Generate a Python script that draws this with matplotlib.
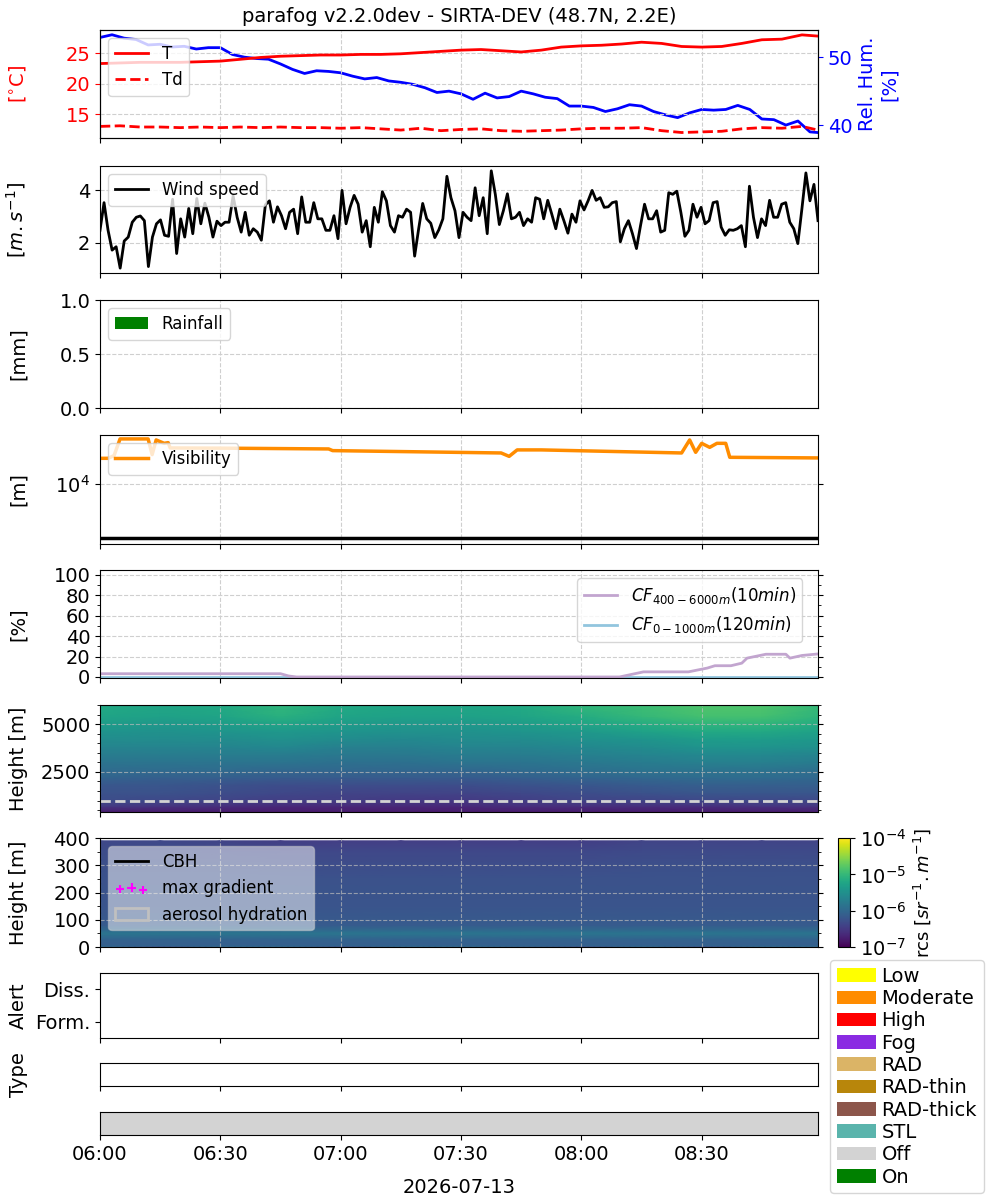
import numpy as np
import matplotlib
matplotlib.use('Agg')
import matplotlib.pyplot as plt
import matplotlib.dates as mdates
from matplotlib.colors import LogNorm
from matplotlib.patches import Patch
from matplotlib.ticker import MultipleLocator, NullLocator
from datetime import datetime, timedelta

plt.rcParams['font.family'] = ['DejaVu Sans']
plt.rcParams['font.size'] = 14

# ---------------- data ----------------
title = 'parafog v2.2.0dev - SIRTA-DEV (48.7N, 2.2E)'
day_label = '2026-07-13'
start = datetime(2026, 7, 13, 6, 0)
end = datetime(2026, 7, 13, 8, 59)

temp_min = [0, 5, 10, 15, 20, 25, 30, 35, 40, 45, 50, 55, 60, 65, 70, 75, 80, 85, 90,
            95, 100, 105, 110, 115, 120, 125, 130, 135, 140, 145, 150, 155, 160, 165,
            170, 175, 179]
temp_c = [23.3, 23.4, 23.5, 23.5, 23.5, 23.6, 23.7, 24.0, 24.3, 24.5, 24.6, 24.7, 24.7,
          24.8, 24.8, 24.9, 25.1, 25.3, 25.5, 25.6, 25.4, 25.2, 25.5, 26.0, 26.2, 26.3,
          26.5, 26.8, 26.6, 26.1, 26.0, 26.1, 26.6, 27.2, 27.3, 28.0, 27.8]
dewpoint_c = [13.0, 13.1, 12.9, 12.9, 12.8, 12.9, 12.8, 12.9, 12.8, 12.9, 12.8, 12.8, 12.7,
              12.8, 12.6, 12.4, 12.7, 12.3, 12.5, 12.6, 12.3, 12.2, 12.3, 12.4, 12.6, 12.7,
              12.7, 12.8, 12.3, 12.0, 12.1, 12.2, 12.6, 12.8, 12.7, 13.0, 12.4]

rh_min = [0, 3, 6, 9, 12, 15, 18, 21, 24, 27, 30, 33, 36, 39, 42, 45, 48, 51, 54, 57,
          60, 63, 66, 69, 72, 75, 78, 81, 84, 87, 90, 93, 96, 99, 102, 105, 108, 111,
          114, 117, 120, 123, 126, 129, 132, 135, 138, 141, 144, 147, 150, 153, 156,
          159, 162, 165, 168, 171, 174, 177, 179]
rh_pct = [52.9, 53.3, 52.8, 52.6, 51.8, 51.9, 51.5, 51.6, 51.2, 51.4, 51.4, 50.4, 50.0,
          49.8, 49.7, 49.0, 48.2, 47.6, 48.0, 47.9, 47.7, 47.2, 46.8, 47.0, 46.5, 46.3,
          46.0, 45.5, 44.8, 45.0, 44.6, 43.8, 44.7, 44.0, 44.2, 45.0, 44.6, 44.1, 43.9,
          42.8, 42.8, 42.6, 42.0, 42.4, 43.0, 42.8, 42.0, 41.5, 41.1, 41.8, 42.3, 42.2,
          42.3, 42.9, 42.3, 40.9, 40.8, 40.0, 40.6, 39.0, 38.9]

wind_ms = [2.47, 3.53, 2.47, 1.71, 1.84, 1.02, 2.06, 2.21, 2.78, 2.97,
           3.02, 2.84, 1.08, 2.21, 2.72, 2.87, 2.28, 2.24, 3.66, 1.58,
           2.91, 2.21, 3.31, 2.34, 3.69, 2.72, 3.51, 2.97, 2.21, 2.82,
           2.65, 2.78, 2.78, 3.79, 2.97, 2.40, 3.16, 2.28, 2.53, 2.40,
           2.09, 3.45, 3.60, 2.78, 3.37, 3.03, 2.53, 3.16, 3.28, 2.34,
           3.75, 2.78, 2.78, 3.53, 2.91, 2.91, 2.47, 2.47, 3.03, 2.15,
           4.00, 2.72, 3.35, 3.81, 3.47, 2.40, 2.84, 1.84, 3.35, 2.78,
           3.95, 3.60, 2.65, 2.40, 3.03, 2.97, 3.28, 3.16, 1.48, 2.53,
           3.50, 2.91, 2.74, 2.19, 2.49, 2.91, 4.54, 3.72, 3.22, 2.19,
           3.16, 2.97, 2.84, 4.10, 3.03, 3.72, 2.34, 4.75, 3.85, 2.69,
           3.22, 3.87, 2.91, 2.97, 3.16, 2.65, 2.91, 2.78, 3.72, 3.66,
           2.91, 3.62, 3.09, 2.53, 3.28, 2.84, 2.36, 3.09, 2.78, 3.60,
           3.25, 3.60, 4.00, 3.62, 3.72, 3.35, 3.37, 3.53, 3.57, 2.03,
           2.53, 2.84, 2.34, 1.77, 2.65, 3.47, 2.91, 2.91, 3.22, 2.40,
           2.47, 3.91, 3.85, 3.97, 3.16, 2.24, 2.47, 3.47, 2.97, 3.35,
           2.72, 2.84, 3.53, 3.57, 2.59, 2.28, 2.49, 2.47, 2.53, 2.65,
           1.84, 4.16, 2.97, 2.19, 2.91, 2.65, 3.62, 2.97, 2.97, 3.47,
           3.53, 2.78, 2.53, 1.96, 3.28, 4.67, 3.60, 4.23, 2.84]

rain_min = [0, 60, 120, 179]
rain_mm = [0.0, 0.0, 0.0, 0.0]

vis_min = [0, 2, 3.5, 5, 12, 13, 14, 16, 17, 17.5, 30, 57, 58, 100, 102, 104, 110,
           145, 147, 148.5, 150, 152, 153.8, 156, 157, 179]
vis_m = [13860, 13860, 14340, 17750, 17750, 14530, 17520, 16780, 16930, 15820, 15780,
         15620, 15290, 14840, 14210, 15430, 15430, 14840, 17520, 14960, 16780, 15940,
         16780, 16780, 14040, 13930]
fog_vis_threshold = 5000

cf_high_min = [0, 45, 47, 49, 129.5, 135.5, 146.7, 151.4, 153.3, 157.3, 160, 161.3,
               166, 171, 172, 175, 179]
cf_high_pct = [3.2, 3.2, 1.0, 0.0, 0.0, 5.0, 5.0, 8.7, 11.0, 11.0, 13.5, 18.4, 22.2,
               22.2, 18.4, 21.0, 22.5]
cf_low_min = [0, 179]
cf_low_pct = [0.0, 0.0]
cf_low_top_m = 1000

# lidar range-corrected signal, log10 values (rows = heights, cols = times)
rcs_times_min = [0, 15, 30, 45, 60, 75, 90, 105, 120, 135, 150, 165, 179]
rcs_hi_heights = [400, 700, 1000, 1400, 1800, 2200, 2600, 3000, 3400, 3800, 4200, 4600,
                  5000, 5400, 5800, 6000]
rcs_hi_log10 = [
    [-6.8, -6.8, -6.8, -6.8, -6.8, -6.8, -6.8, -6.8, -6.8, -6.8, -6.8, -6.8, -6.8],
    [-6.5, -6.55, -6.6, -6.65, -6.65, -6.65, -6.65, -6.6, -6.6, -6.6, -6.6, -6.55, -6.55],
    [-6.3, -6.35, -6.4, -6.45, -6.45, -6.5, -6.5, -6.45, -6.4, -6.4, -6.35, -6.35, -6.35],
    [-6.25, -6.25, -6.3, -6.35, -6.4, -6.4, -6.4, -6.35, -6.3, -6.25, -6.2, -6.2, -6.2],
    [-6.2, -6.2, -6.25, -6.3, -6.3, -6.3, -6.3, -6.25, -6.2, -6.15, -6.1, -6.1, -6.1],
    [-6.05, -6.1, -6.1, -6.15, -6.15, -6.15, -6.15, -6.1, -6.05, -6.0, -5.95, -5.95, -6.0],
    [-5.95, -5.95, -5.95, -6.0, -6.0, -6.0, -6.0, -5.95, -5.9, -5.85, -5.85, -5.85, -5.9],
    [-5.85, -5.85, -5.85, -5.85, -5.9, -5.9, -5.85, -5.85, -5.8, -5.75, -5.7, -5.7, -5.75],
    [-5.75, -5.75, -5.75, -5.75, -5.8, -5.8, -5.75, -5.75, -5.7, -5.65, -5.6, -5.6, -5.65],
    [-5.65, -5.65, -5.65, -5.6, -5.7, -5.7, -5.65, -5.65, -5.6, -5.55, -5.45, -5.45, -5.5],
    [-5.55, -5.55, -5.55, -5.5, -5.55, -5.6, -5.55, -5.55, -5.5, -5.45, -5.35, -5.35, -5.4],
    [-5.45, -5.5, -5.45, -5.4, -5.45, -5.5, -5.5, -5.45, -5.4, -5.3, -5.2, -5.2, -5.3],
    [-5.35, -5.4, -5.35, -5.25, -5.35, -5.4, -5.4, -5.35, -5.25, -5.15, -5.05, -5.05, -5.15],
    [-5.25, -5.3, -5.25, -5.1, -5.25, -5.3, -5.3, -5.25, -5.15, -5.0, -4.9, -4.9, -5.05],
    [-5.2, -5.25, -5.2, -5.05, -5.2, -5.25, -5.25, -5.2, -5.05, -4.95, -4.85, -4.85, -5.0],
    [-5.2, -5.25, -5.2, -5.05, -5.2, -5.25, -5.25, -5.2, -5.05, -4.95, -4.85, -4.85, -5.0],
]
rcs_lo_heights = [0, 6, 12, 30, 45, 52, 60, 80, 150, 250, 300, 350, 390]
rcs_lo_log10 = [
    [-6.0, -6.3, -6.0, -6.0, -6.3, -6.0, -6.0, -6.1, -6.3, -6.0, -6.3, -6.0, -6.0],
    [-6.05, -6.05, -6.05, -6.05, -6.05, -6.05, -6.05, -6.05, -6.05, -6.05, -6.05, -6.05, -6.05],
    [-6.1, -6.1, -6.1, -6.1, -6.1, -6.1, -6.1, -6.1, -6.1, -6.1, -6.1, -6.1, -6.1],
    [-6.05, -6.05, -6.05, -6.05, -6.05, -6.05, -6.05, -6.05, -6.05, -6.05, -6.05, -6.05, -6.05],
    [-5.88, -5.88, -5.88, -5.88, -5.88, -5.88, -5.88, -5.88, -5.88, -5.88, -5.88, -5.88, -5.88],
    [-5.85, -5.85, -5.85, -5.85, -5.85, -5.85, -5.85, -5.85, -5.85, -5.85, -5.85, -5.85, -5.85],
    [-5.95, -5.95, -5.95, -5.95, -5.95, -5.95, -5.95, -5.95, -5.95, -5.95, -5.95, -5.95, -5.95],
    [-6.15, -6.15, -6.15, -6.15, -6.15, -6.15, -6.15, -6.15, -6.15, -6.15, -6.15, -6.15, -6.15],
    [-6.22, -6.22, -6.22, -6.22, -6.22, -6.22, -6.22, -6.22, -6.22, -6.22, -6.22, -6.22, -6.22],
    [-6.25, -6.25, -6.25, -6.25, -6.25, -6.25, -6.25, -6.25, -6.25, -6.25, -6.25, -6.25, -6.25],
    [-6.28, -6.28, -6.28, -6.3, -6.3, -6.3, -6.3, -6.3, -6.3, -6.28, -6.28, -6.28, -6.28],
    [-6.3, -6.3, -6.33, -6.35, -6.35, -6.35, -6.35, -6.35, -6.35, -6.33, -6.33, -6.33, -6.33],
    [-6.35, -6.35, -6.4, -6.45, -6.45, -6.45, -6.45, -6.45, -6.45, -6.4, -6.4, -6.4, -6.4],
]
rcs_vmin, rcs_vmax = 1e-7, 1e-4

alert_levels = ['Form.', 'Diss.']
status_segments_min = [(0, 179)]
status_state = ['Off']

legend_labels = ['Low', 'Moderate', 'High', 'Fog', 'RAD', 'RAD-thin', 'RAD-thick', 'STL',
                 'Off', 'On']
legend_colors = ['yellow', 'darkorange', 'red', 'blueviolet', '#dbb466', 'darkgoldenrod',
                 '#8c564b', '#5ab4ac', 'lightgrey', 'green']
state_colors = dict(zip(legend_labels, legend_colors))


def at(mins):
    return [start + timedelta(minutes=float(m)) for m in mins]


# ---------------- figure ----------------
fig = plt.figure(figsize=(10, 12), dpi=100)
L, W = 0.10, 0.718
pos = {
    'T': (0.885, 0.090), 'wind': (0.7725, 0.0892), 'rain': (0.66, 0.09),
    'vis': (0.5467, 0.0908), 'cf': (0.435, 0.09), 'hi': (0.3233, 0.0892),
    'lo': (0.2108, 0.0908), 'alert': (0.135, 0.0542), 'type': (0.095, 0.0192),
    'state': (0.0542, 0.0192),
}
axes = {k: fig.add_axes([L, b, W, h]) for k, (b, h) in pos.items()}
gridkw = dict(ls='--', color='#cfcfcf', lw=0.8)

for k, ax in axes.items():
    ax.set_xlim(start, end)
    ax.xaxis.set_major_locator(mdates.MinuteLocator(byminute=[0, 30]))
    ax.xaxis.set_major_formatter(mdates.DateFormatter('%H:%M'))
    if k != 'state':
        ax.tick_params(axis='x', labelbottom=False)

# Temperature / RH
ax = axes['T']
ax.plot(at(temp_min), temp_c, color='red', lw=2, label='T')
ax.plot(at(temp_min), dewpoint_c, color='red', lw=2, ls='--', label='Td')
ax.set_ylim(11.1, 28.8)
ax.set_ylabel(r'[$^{\circ}$C]', color='red')
ax.tick_params(axis='y', colors='red')
ax.grid(True, **gridkw)
ax.set_title(title, fontsize=14)
ax.legend(loc='upper left', fontsize=12)
axr = ax.twinx()
axr.plot(at(rh_min), rh_pct, color='blue', lw=2)
axr.set_ylim(38.1, 54.0)
axr.set_ylabel('Rel. Hum.\n[%]', color='blue')
axr.tick_params(axis='y', colors='blue')
axr.set_xlim(start, end)
ax.set_zorder(axr.get_zorder() + 1)
ax.patch.set_visible(False)

# Wind
ax = axes['wind']
wind_t = np.linspace(0, 179, len(wind_ms))
ax.plot(at(wind_t), wind_ms, color='black', lw=2, label='Wind speed')
ax.set_ylabel(r'[$m.s^{-1}$]')
ax.grid(True, **gridkw)
ax.legend(loc='upper left', fontsize=12)

# Rain
ax = axes['rain']
ax.bar(at(rain_min), rain_mm, width=1 / 1440, color='green', label='Rainfall')
ax.set_ylim(0, 1)
ax.set_yticks([0, 0.5, 1.0])
ax.set_ylabel('[mm]')
ax.grid(True, **gridkw)
ax.legend(loc='upper left', fontsize=12)

# Visibility
ax = axes['vis']
ax.plot(at(vis_min), vis_m, color='darkorange', lw=2.5, label='Visibility')
ax.axhline(fog_vis_threshold, color='black', lw=2.5)
ax.set_yscale('log')
ax.set_ylim(4650, 18660)
ax.yaxis.set_minor_locator(NullLocator())
ax.set_yticks([1e4])
ax.tick_params(axis='y', right=True)
ax.set_ylabel('[m]')
ax.grid(True, **gridkw)
ax.legend(loc='upper left', fontsize=12)

# Cloud fraction
ax = axes['cf']
ax.plot(at(cf_low_min), cf_low_pct, color='#92c5de', lw=2, label=r'$CF_{0-1000m}(120min)$')
ax.plot(at(cf_high_min), cf_high_pct, color='#c2a5cf', lw=2, label=r'$CF_{400-6000m}(10min)$')
ax.set_ylim(-1, 104.5)
ax.set_yticks([0, 20, 40, 60, 80, 100])
ax.yaxis.set_minor_locator(MultipleLocator(10))
ax.tick_params(axis='y', which='both', right=True)
ax.set_ylabel('[%]')
ax.grid(True, **gridkw)
h, l = ax.get_legend_handles_labels()
ax.legend(h[::-1], l[::-1], loc='upper right', bbox_to_anchor=(0.99, 1.0), fontsize=12)

# Lidar (1-D time and height vectors so the date axis converts them properly)
norm = LogNorm(rcs_vmin, rcs_vmax)
rcs_t = mdates.date2num(at(rcs_times_min))
ax = axes['hi']
ax.pcolormesh(rcs_t, np.array(rcs_hi_heights, float), 10.0 ** np.array(rcs_hi_log10),
              shading='gouraud', cmap='viridis', norm=norm)
ax.axhline(cf_low_top_m, color='lightgrey', ls='--', lw=2)
ax.set_xlim(start, end)
ax.set_ylim(400, 6000)
ax.set_yticks([2500, 5000])
ax.yaxis.set_minor_locator(MultipleLocator(500))
ax.tick_params(axis='y', which='both', right=True)
ax.set_ylabel('Height [m]')
ax.grid(True, ls='--', color='#bbbbbb', lw=0.8, alpha=0.7)

ax = axes['lo']
mesh = ax.pcolormesh(rcs_t, np.array(rcs_lo_heights, float), 10.0 ** np.array(rcs_lo_log10),
                     shading='gouraud', cmap='viridis', norm=norm)
ax.set_xlim(start, end)
ax.set_ylim(0, 400)
ax.set_yticks([0, 100, 200, 300, 400])
ax.yaxis.set_minor_locator(MultipleLocator(50))
ax.tick_params(axis='y', which='both', right=True)
ax.set_ylabel('Height [m]')
ax.grid(True, ls='--', color='#bbbbbb', lw=0.8, alpha=0.7)
ax.plot([], [], color='black', lw=2, label='CBH')
ax.scatter([], [], marker='+', color='magenta', label='max gradient')
hh, ll = ax.get_legend_handles_labels()
hh.append(Patch(facecolor='none', edgecolor='silver', lw=2))
ll.append('aerosol hydration')
ax.legend(hh, ll, loc='upper left', fontsize=12, scatterpoints=3, framealpha=0.5)

cax = fig.add_axes([0.838, 0.2108, 0.012, 0.0908])
cb = fig.colorbar(mesh, cax=cax)
cb.set_ticks([1e-7, 1e-6, 1e-5, 1e-4])
cb.set_label(r'rcs [$sr^{-1}.m^{-1}$]', fontsize=13)

# Alert
ax = axes['alert']
ax.set_ylim(0, 2)
ax.set_yticks([0.5, 1.5])
ax.set_yticklabels(alert_levels)
ax.set_ylabel('Alert')

# Type
ax = axes['type']
ax.set_yticks([])
ax.set_ylabel('Type')

# State
ax = axes['state']
for (s0, s1), st in zip(status_segments_min, status_state):
    ax.axvspan(start + timedelta(minutes=s0), start + timedelta(minutes=s1),
               color=state_colors[st], lw=0)
ax.set_yticks([])
ax.set_xlabel(day_label, labelpad=10)

for k in ['T', 'wind', 'rain', 'vis', 'cf', 'hi', 'lo', 'alert', 'type']:
    axes[k].yaxis.set_label_coords(-0.1, 0.5)

handles = [Patch(facecolor=c, edgecolor='none', label=lab) for lab, c in zip(legend_labels, legend_colors)]
fig.legend(handles=handles, loc='upper left', bbox_to_anchor=(0.83, 0.2), borderaxespad=0,
           fontsize=14, labelspacing=0.17, handletextpad=0.3, borderpad=0.35)

fig.savefig('out.png', dpi=100)
